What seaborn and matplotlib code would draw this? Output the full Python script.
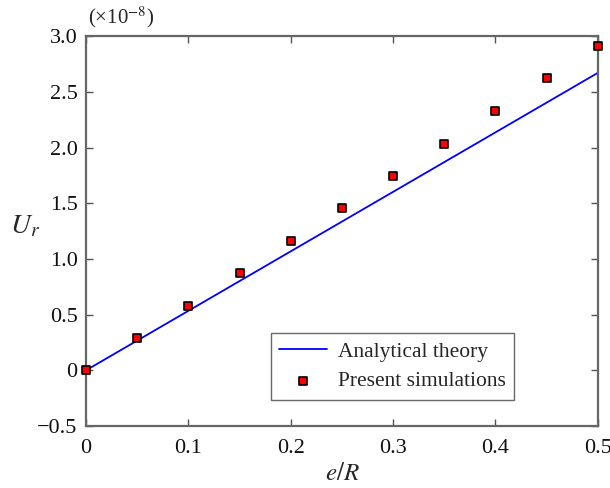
import numpy as np
import pandas as pd
import matplotlib
matplotlib.use("Agg")
import matplotlib.pyplot as plt
import seaborn as sns

# values in units of 1e-8
e_over_R = [0.0, 0.05, 0.1, 0.15, 0.2, 0.25, 0.3, 0.35, 0.4, 0.45, 0.5]
u_sim = [0.0, 0.29, 0.58, 0.875, 1.165, 1.46, 1.745, 2.035, 2.33, 2.62, 2.91]
theory_x = [0.0, 0.5]
theory_u = [0.0, 2.67]

sns.set_theme(style="ticks")
plt.rcParams["font.family"] = ["Liberation Serif", "DejaVu Serif"]
plt.rcParams["mathtext.fontset"] = "stix"

sim = pd.DataFrame({"x": e_over_R, "u": u_sim})
theory = pd.DataFrame({"x": theory_x, "u": theory_u})

fig = plt.figure(figsize=(6.1, 4.88), dpi=100)
ax = fig.add_axes([0.141, 0.127, 0.839, 0.799])

sns.lineplot(data=theory, x="x", y="u", ax=ax, color="#0000ff", lw=1.3,
             label="Analytical theory")
sns.scatterplot(data=sim, x="x", y="u", ax=ax, marker="s", s=40,
                color="#ff0000", edgecolor="black", linewidth=1.2,
                label="Present simulations", zorder=3, clip_on=False)

ax.set_xlim(0, 0.5)
ax.set_ylim(-0.5, 3.0)
ax.set_xticks(np.arange(0, 0.51, 0.1))
ax.set_xticklabels(["0", "0.1", "0.2", "0.3", "0.4", "0.5"])
ax.set_yticks(np.arange(-0.5, 3.01, 0.5))
ax.set_yticklabels(["\u22120.5", "0", "0.5", "1.0", "1.5", "2.0", "2.5", "3.0"])
ax.tick_params(direction="in", top=True, right=True, length=5, width=1.0,
               labelsize=16, colors="#555555", labelcolor="#111111", pad=6)
ax.tick_params(axis="x", pad=9)
for sp in ax.spines.values():
    sp.set_color("#666666")
    sp.set_linewidth(1.6)

ax.set_xlabel("$e/R$", fontsize=18, labelpad=4)
ax.set_ylabel("$U_r$", fontsize=20, rotation=0, va="center")
ax.yaxis.set_label_coords(-0.12, 0.512)
ax.text(0.004, 1.015, "(\u00d710$^{\u22128}$)", transform=ax.transAxes,
        fontsize=15, ha="left", va="bottom")

leg = ax.legend(loc="lower left", bbox_to_anchor=(0.361, 0.067), fontsize=15.5,
                frameon=True, fancybox=False, edgecolor="#444444",
                borderpad=0.4, handlelength=2.2, handletextpad=0.5,
                labelspacing=0.45, borderaxespad=0, markerscale=0.85)
leg.get_frame().set_linewidth(1.0)

fig.savefig("out.png", dpi=100)
